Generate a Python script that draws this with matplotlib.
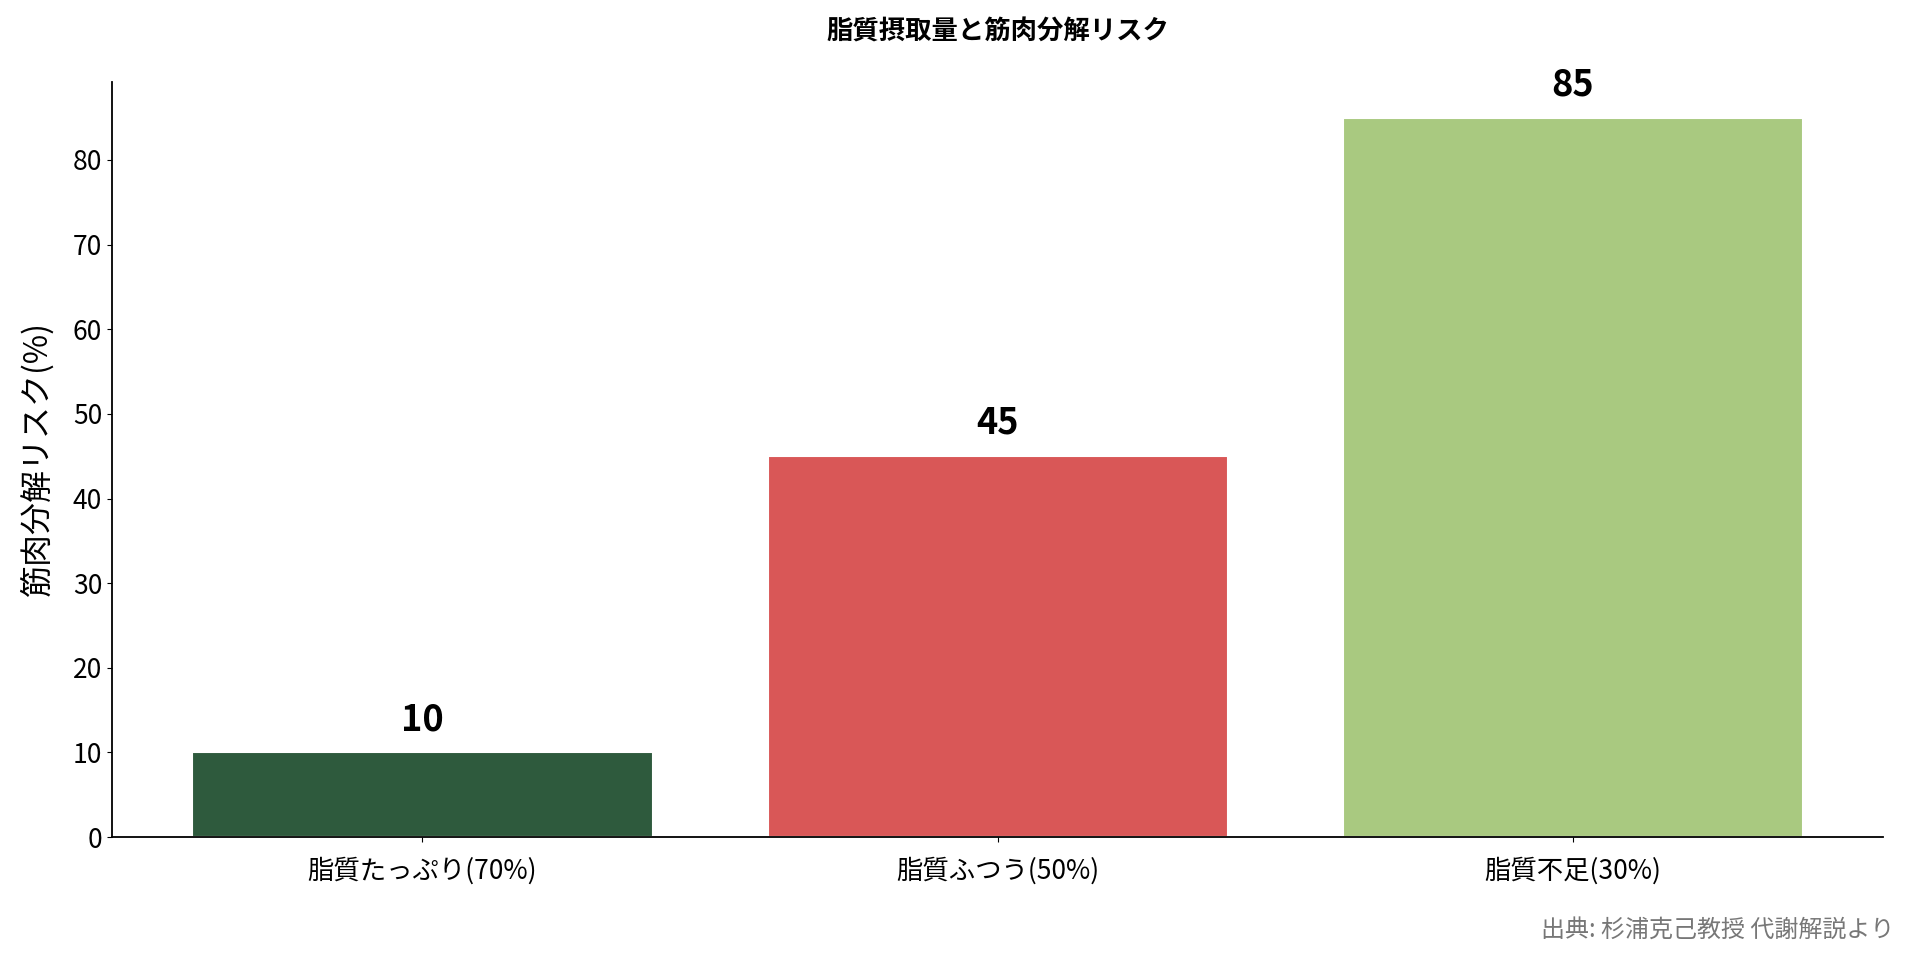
import matplotlib
matplotlib.use("Agg")
import matplotlib.pyplot as plt

plt.rcParams['font.family'] = ['Noto Sans CJK JP', 'DejaVu Sans']

# Data
categories = ["脂質たっぷり(70%)", "脂質ふつう(50%)", "脂質不足(30%)"]
risk = [10, 45, 85]
colors = ["#2E5A3D", "#D95757", "#A9C980"]

fig, ax = plt.subplots(figsize=(19.1, 9.6), dpi=100)
fig.subplots_adjust(left=0.0586, right=0.986, top=0.915, bottom=0.128)

bars = ax.bar(categories, risk, color=colors, width=0.8, edgecolor="white", linewidth=1.5)

# Value labels
for b, v in zip(bars, risk):
    ax.text(b.get_x() + b.get_width() / 2, v + 1.7, str(v),
            ha="center", va="bottom", fontsize=26, fontweight="bold")

ax.set_title("脂質摂取量と筋肉分解リスク", fontsize=19, fontweight="bold", pad=30)
ax.set_ylabel("筋肉分解リスク(%)", fontsize=23, labelpad=14)
ax.tick_params(axis="x", labelsize=19, pad=11)
ax.tick_params(axis="y", labelsize=19)
ax.spines["top"].set_visible(False)
ax.spines["right"].set_visible(False)
ax.spines["left"].set_linewidth(1.3)
ax.spines["bottom"].set_linewidth(1.3)

fig.text(0.992, 0.032, "出典: 杉浦克己教授 代謝解説より", ha="right", va="center",
         fontsize=17.3, color="#777777")

plt.savefig("out.png", dpi=100)
